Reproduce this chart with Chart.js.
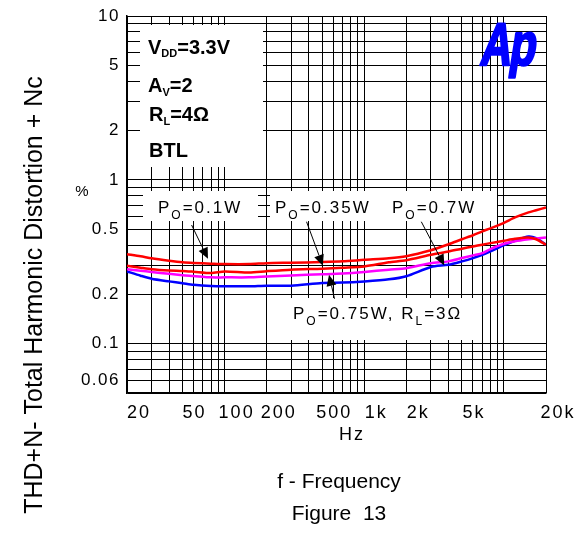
<!DOCTYPE html>
<html>
<head>
<meta charset="utf-8">
<script src="https://cdn.jsdelivr.net/npm/chart.js@4.4.1/dist/chart.umd.min.js"></script>
<style>
  html, body { margin: 0; padding: 0; background: #fff; }
  canvas { display: block; }
</style>
</head>
<body>
<canvas id="thdChart" width="577" height="554"></canvas>
<script>
// frequencies (Hz) shared by all curves
const freqHz = [20, 25, 30, 40, 50, 60, 80, 100, 150, 200, 300, 500, 700, 1000, 1500, 2000,
    3000, 4000, 5000, 6000, 7000, 8000, 10000, 12000, 15000, 17000, 20000];

// THD+N (%)
const thd01W = [0.352, 0.342, 0.332, 0.321, 0.314, 0.311, 0.308, 0.306, 0.306, 0.310, 0.312, 0.315, 0.318, 0.325,
    0.332, 0.342, 0.372, 0.404, 0.434, 0.459, 0.485, 0.506, 0.547, 0.590, 0.633, 0.652, 0.678];
const thd035W = [0.299, 0.291, 0.285, 0.280, 0.278, 0.275, 0.270, 0.276, 0.272, 0.277, 0.283, 0.287, 0.291, 0.296,
    0.314, 0.323, 0.349, 0.365, 0.380, 0.392, 0.402, 0.411, 0.425, 0.437, 0.445, 0.434, 0.402];
const thd07W = [0.285, 0.279, 0.274, 0.267, 0.262, 0.259, 0.254, 0.254, 0.254, 0.257, 0.261, 0.265, 0.268, 0.274,
    0.283, 0.289, 0.310, 0.318, 0.333, 0.346, 0.357, 0.378, 0.407, 0.422, 0.434, 0.439, 0.445];
const thd075W3R = [0.276, 0.260, 0.249, 0.240, 0.234, 0.229, 0.225, 0.224, 0.224, 0.226, 0.226, 0.235, 0.236, 0.240,
    0.247, 0.258, 0.294, 0.303, 0.318, 0.333, 0.349, 0.366, 0.399, 0.425, 0.451, 0.440, 0.402];

// tick labels
const xTickValues = [20, 50, 100, 200, 500, 1000, 2000, 5000, 20000];
const xTickLabels = ['20', '50', '100', '200', '500', '1k', '2k', '5k', '20k'];
const yTickValues = [10, 5, 2, 1, 0.5, 0.2, 0.1, 0.06];
const yTickLabels = ['10', '5', '2', '1', '0.5', '0.2', '0.1', '0.06'];

const FONT = '"Liberation Sans", Arial, Helvetica, sans-serif';

// grid lines of a log paper: 1..9 in every decade
function logGrid(min, max) {
    const out = [];
    for (let e = -3; e <= 5; e++) {
        for (let m = 1; m <= 9; m++) {
            const v = parseFloat((m * Math.pow(10, e)).toPrecision(3));
            if (v >= min - 1e-9 && v <= max + 1e-9) out.push(v);
        }
    }
    if (out[0] > min) out.unshift(min);
    if (out[out.length - 1] < max) out.push(max);
    return out;
}

function series(values) {
    return freqHz.map((f, i) => ({ x: f, y: values[i] }));
}

// text made of pieces, some of them subscripts
function drawRich(ctx, x, y, parts, font, subFont, subDy, spacing) {
    ctx.textAlign = 'left';
    ctx.textBaseline = 'alphabetic';
    ctx.letterSpacing = spacing + 'px';
    let cx = x;
    parts.forEach(p => {
        ctx.font = p.sub ? subFont : font;
        ctx.fillText(p.t, cx, p.sub ? y + subDy : y);
        cx += ctx.measureText(p.t).width;
    });
    ctx.letterSpacing = '0px';
}

function arrow(ctx, x1, y1, x2, y2) {
    const ang = Math.atan2(y2 - y1, x2 - x1);
    const len = 11, half = 5;
    const bx = x2 - len * Math.cos(ang), by = y2 - len * Math.sin(ang);
    ctx.strokeStyle = '#000';
    ctx.lineWidth = 1;
    ctx.beginPath();
    ctx.moveTo(x1, y1);
    ctx.lineTo(bx, by);
    ctx.stroke();
    ctx.fillStyle = '#000';
    ctx.beginPath();
    ctx.moveTo(x2, y2);
    ctx.lineTo(bx + half * Math.sin(ang), by - half * Math.cos(ang));
    ctx.lineTo(bx - half * Math.sin(ang), by + half * Math.cos(ang));
    ctx.closePath();
    ctx.fill();
}

// arrows in data space: [fromHz, from%, toHz, to%]
const arrows = [
    [58, 0.53, 76, 0.330],
    [386, 0.555, 505, 0.299],
    [2560, 0.555, 3740, 0.300],
    [612, 0.188, 559, 0.263]
];

const decor = {
    id: 'decor',
    beforeDatasetsDraw(chart) {
        const ctx = chart.ctx;
        ctx.save();
        // white label boxes over the grid
        ctx.fillStyle = '#fff';
        ctx.fillRect(140, 25, 123, 142);
        ctx.fillRect(143, 191, 115, 30);
        ctx.fillRect(270, 191, 227, 30);
        ctx.fillRect(289, 298, 191, 42);

        ctx.fillStyle = '#000';
        const bold = 'bold 20px ' + FONT;
        const boldSub = 'bold 11px ' + FONT;
        drawRich(ctx, 148, 54, [{ t: 'V' }, { t: 'DD', sub: true }, { t: '=3.3V' }], bold, boldSub, 3, 0);
        drawRich(ctx, 148, 92, [{ t: 'A' }, { t: 'V', sub: true }, { t: '=2' }], bold, boldSub, 4, 0);
        drawRich(ctx, 149, 121, [{ t: 'R' }, { t: 'L', sub: true }, { t: '=4Ω' }], bold, boldSub, 4, 0);
        drawRich(ctx, 149, 157, [{ t: 'BTL' }], bold, boldSub, 4, 0);

        const reg = '17px ' + FONT;
        const regSub = '12px ' + FONT;
        drawRich(ctx, 158, 213, [{ t: 'P' }, { t: 'O', sub: true }, { t: '=0.1W' }], reg, regSub, 6, 2);
        drawRich(ctx, 275, 213, [{ t: 'P' }, { t: 'O', sub: true }, { t: '=0.35W' }], reg, regSub, 6, 2);
        drawRich(ctx, 392, 213, [{ t: 'P' }, { t: 'O', sub: true }, { t: '=0.7W' }], reg, regSub, 6, 2);
        drawRich(ctx, 293, 319, [{ t: 'P' }, { t: 'O', sub: true }, { t: '=0.75W, R' }, { t: 'L', sub: true }, { t: '=3Ω' }],
            reg, regSub, 6, 2);

        // Ap logo: heavy, slightly slanted, condensed
        ctx.save();
        ctx.fillStyle = '#0000ff';
        ctx.strokeStyle = '#0000ff';
        ctx.lineWidth = 2.5;
        ctx.lineJoin = 'round';
        ctx.setTransform(0.72, 0, -0.16, 1, 479, 65);
        ctx.font = 'bold 60px ' + FONT;
        ctx.textAlign = 'left';
        ctx.textBaseline = 'alphabetic';
        ctx.letterSpacing = '-3px';
        ctx.fillText('Ap', 0, 0);
        ctx.strokeText('Ap', 0, 0);
        ctx.letterSpacing = '0px';
        ctx.restore();
        ctx.restore();
    },
    afterDatasetsDraw(chart) {
        const ctx = chart.ctx;
        const xs = chart.scales.x, ys = chart.scales.y;
        ctx.save();
        arrows.forEach(a => {
            arrow(ctx, xs.getPixelForValue(a[0]), ys.getPixelForValue(a[1]),
                xs.getPixelForValue(a[2]), ys.getPixelForValue(a[3]));
        });
        ctx.restore();
    },
    afterDraw(chart) {
        const ctx = chart.ctx;
        const xs = chart.scales.x, ys = chart.scales.y;
        ctx.save();
        ctx.fillStyle = '#000';

        // y tick labels
        ctx.font = '17px ' + FONT;
        ctx.letterSpacing = '1.5px';
        ctx.textAlign = 'right';
        ctx.textBaseline = 'middle';
        yTickValues.forEach((v, i) => ctx.fillText(yTickLabels[i], 120, ys.getPixelForValue(v)));

        // x tick labels (printed a little right of their lines, as in the figure)
        ctx.font = '18px ' + FONT;
        ctx.letterSpacing = '2px';
        ctx.textAlign = 'center';
        ctx.textBaseline = 'alphabetic';
        xTickValues.forEach((v, i) => ctx.fillText(xTickLabels[i], xs.getPixelForValue(v) + 12, 418));
        ctx.fillText('Hz', 352, 440);
        ctx.letterSpacing = '0px';

        ctx.font = '15px ' + FONT;
        ctx.fillText('%', 82, 196);

        // axis titles
        ctx.font = '21px ' + FONT;
        ctx.fillText('f - Frequency', 339, 488);
        ctx.fillText('Figure  13', 339, 520);

        ctx.save();
        ctx.translate(42, 295);
        ctx.rotate(-Math.PI / 2);
        ctx.font = '25px ' + FONT;
        ctx.textAlign = 'center';
        ctx.textBaseline = 'alphabetic';
        ctx.fillText('THD+N- Total Harmonic Distortion + Nc', 0, 0);
        ctx.restore();
        ctx.restore();
    }
};

const gridX = logGrid(20, 20000);
const gridY = logGrid(0.05, 10);

const ctx = document.getElementById('thdChart').getContext('2d');
new Chart(ctx, {
    type: 'line',
    data: {
        datasets: [
            { label: 'PO=0.1W', data: series(thd01W), borderColor: '#ff0000' },
            { label: 'PO=0.35W', data: series(thd035W), borderColor: '#ff0000' },
            { label: 'PO=0.7W', data: series(thd07W), borderColor: '#ff00ff' },
            { label: 'PO=0.75W, RL=3Ω', data: series(thd075W3R), borderColor: '#0000ff' }
        ]
    },
    options: {
        responsive: false,
        animation: false,
        events: [],
        layout: { padding: { left: 127, right: 31, top: 16, bottom: 161 } },
        elements: {
            point: { radius: 0 },
            line: { borderWidth: 2.5, tension: 0.25, fill: false }
        },
        plugins: {
            legend: { display: false },
            tooltip: { enabled: false }
        },
        scales: {
            x: {
                type: 'logarithmic',
                min: 20,
                max: 20000,
                afterBuildTicks: axis => { axis.ticks = gridX.map(v => ({ value: v })); },
                ticks: { display: false },
                grid: { color: '#000', lineWidth: 1, drawTicks: false },
                border: { color: '#000', width: 1.5 }
            },
            y: {
                type: 'logarithmic',
                min: 0.05,
                max: 10,
                afterBuildTicks: axis => { axis.ticks = gridY.map(v => ({ value: v })); },
                ticks: { display: false },
                grid: { color: '#000', lineWidth: 1, drawTicks: false },
                border: { color: '#000', width: 1.5 }
            }
        }
    },
    plugins: [decor]
});
</script>
</body>
</html>
